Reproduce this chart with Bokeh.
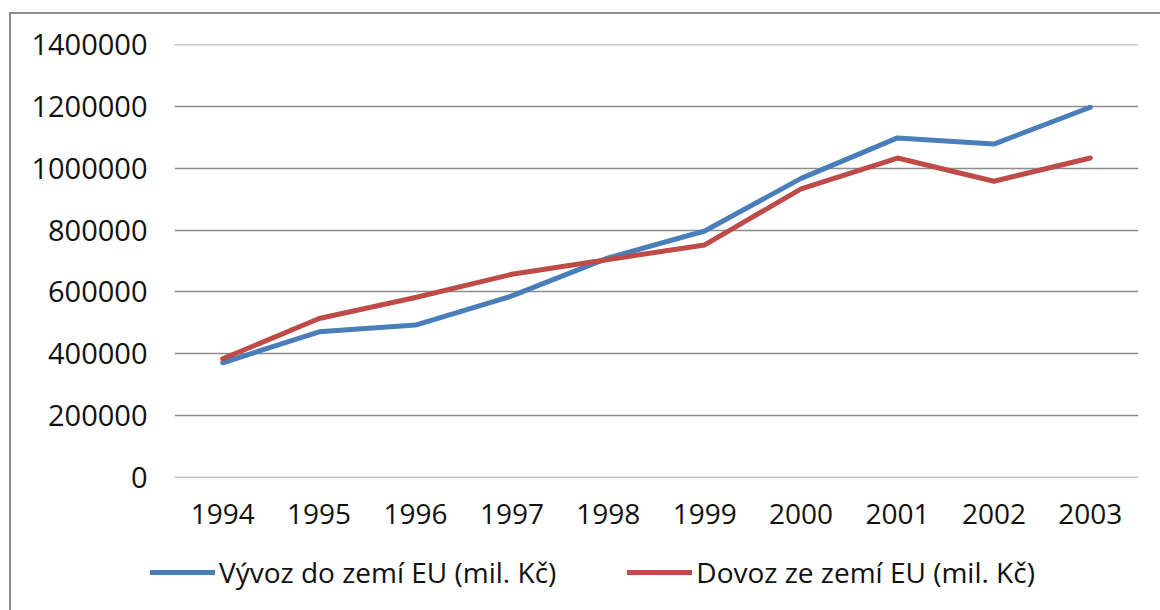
from bokeh.plotting import figure
from bokeh.layouts import column
from bokeh.models import Legend, LegendItem, Range1d, FactorRange, NumeralTickFormatter, Span
from bokeh.embed import file_html
from bokeh.resources import INLINE

years = ["1994", "1995", "1996", "1997", "1998", "1999", "2000", "2001", "2002", "2003"]
vyvoz = [371000, 471000, 493000, 587000, 710000, 797000, 967000, 1098000, 1078000, 1197000]
dovoz = [384000, 514000, 582000, 657000, 705000, 752000, 933000, 1033000, 958000, 1033000]
y_ticks = [0, 200000, 400000, 600000, 800000, 1000000, 1200000, 1400000]
label_vyvoz = "Vývoz do zemí EU (mil. Kč)"
label_dovoz = "Dovoz ze zemí EU (mil. Kč)"

FONT = "Open Sans"
GRID = "#8c8c8c"
BLUE = "#4a7ebb"
RED = "#be4b48"

x_range = FactorRange(*years)
y_range = Range1d(y_ticks[0], y_ticks[-1])

p = figure(width=1149, height=528, x_range=x_range, y_range=y_range,
           output_backend="svg", toolbar_location=None,
           min_border_left=163, min_border_right=22, min_border_top=30, min_border_bottom=65)
p.outline_line_color = None
p.xgrid.grid_line_color = None
p.ygrid.grid_line_color = GRID
p.ygrid.grid_line_width = 1.3
p.yaxis.ticker = y_ticks
p.yaxis.formatter = NumeralTickFormatter(format="0")
for loc in (y_ticks[0], y_ticks[-1]):
    p.add_layout(Span(location=loc, dimension="width", line_color=GRID, line_width=1.3, level="underlay"))

for ax in (p.xaxis[0], p.yaxis[0]):
    ax.axis_line_color = None
    ax.major_tick_line_color = None
    ax.minor_tick_line_color = None
    ax.major_label_text_font = FONT
    ax.major_label_text_color = "#111111"
p.xaxis.major_label_text_font_size = "28px"
p.yaxis.major_label_text_font_size = "29px"
p.yaxis.major_label_standoff = 21
p.xaxis.major_label_standoff = 20

p.line(years, vyvoz, line_color=BLUE, line_width=5, line_cap="round", line_join="round")
p.line(years, dovoz, line_color=RED, line_width=5, line_cap="round", line_join="round")

# legend panel below the chart (separate canvas so the legend is not clipped)
pl = figure(width=1149, height=68, x_range=x_range, y_range=y_range,
            output_backend="svg", toolbar_location=None,
            min_border_left=0, min_border_right=0, min_border_top=0, min_border_bottom=0)
pl.frame_align = False
pl.axis.visible = False
pl.grid.grid_line_color = None
pl.outline_line_color = None
l1 = pl.line(years, vyvoz, line_color=BLUE, line_width=5, line_cap="round", visible=False)
l2 = pl.line(years, dovoz, line_color=RED, line_width=5, line_cap="round", visible=False)

legend = Legend(items=[LegendItem(label=label_vyvoz, renderers=[l1]),
                       LegendItem(label=label_dovoz, renderers=[l2])],
                orientation="horizontal", location=(139, 19))
legend.border_line_color = None
legend.background_fill_alpha = 0
legend.inactive_fill_alpha = 0
legend.padding = 0
legend.margin = 0
legend.spacing = 71
legend.glyph_width = 65
legend.glyph_height = 36
legend.label_height = 36
legend.label_standoff = 4
legend.label_text_font = FONT
legend.label_text_font_size = "28px"
legend.label_text_color = "#111111"
pl.add_layout(legend, "center")

layout = column(p, pl, spacing=0)
layout.margin = (12, 0, 0, 9)
layout.styles = {"border-left": "2px solid #8c8c8c", "border-top": "2px solid #8c8c8c"}

open("out.html", "w").write(file_html(layout, INLINE))
